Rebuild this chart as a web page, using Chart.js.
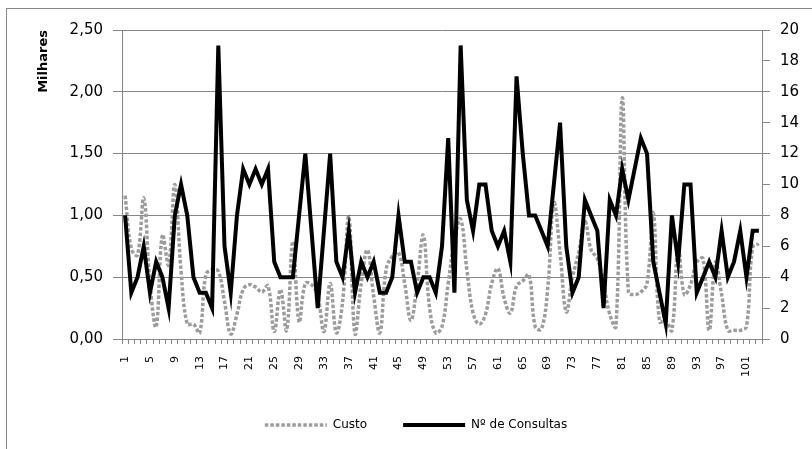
<!DOCTYPE html>
<html lang="pt">
<head>
<meta charset="utf-8">
<title>Custo e Nº de Consultas</title>
<script src="https://cdn.jsdelivr.net/npm/chart.js"></script>
<style>
  html, body { margin:0; padding:0; background:#fff; overflow:hidden; }
  canvas { position:absolute; left:0; top:0; }
  /* moldura do gráfico (estilo Excel) */
  #moldura { position:absolute; left:6px; top:8px; width:900px; height:600px; border:1px solid #868686; pointer-events:none; }
</style>
</head>
<body>
<canvas id="grafico" width="812" height="449"></canvas>
<div id="moldura"></div>
<script>
// DADOS
// custo em euros (o eixo mostra milhares)
var custo = [
  1160, 730, 680,1140, 450, 100, 840, 600,1250, 550,
   120, 120,  50, 520, 560, 550, 300,  40, 200, 400,
   440, 420, 380, 430,  60, 400,  70, 790, 140, 450,
   440, 350,  60, 450,  50, 300, 990,  40, 450, 720,
   350,  50, 560, 670, 700, 450, 150, 450, 840, 250,
    50, 100, 450, 800, 970, 560, 210, 120, 200, 450,
   570, 330, 210, 430, 470, 520, 100,  80, 400,1100,
   700, 220, 500, 700, 950, 720, 650, 450, 200, 100,
  1950, 380, 360, 380, 450,1020, 140, 150,  70, 740,
   360, 440, 620, 650,  70, 620, 360,  70,  70,  70,
   100, 740, 770
];

// número de consultas (eixo da direita)
var consultas = [
   8, 3, 4, 6, 3, 5, 4, 2, 8,10,
   8, 4, 3, 3, 2,19, 6, 3, 8,11,
  10,11,10,11, 5, 4, 4, 4, 8,12,
   7, 2, 7,12, 5, 4, 7, 3, 5, 4,
   5, 3, 3, 4, 8, 5, 5, 3, 4, 4,
   3, 6,13, 3,19, 9, 7,10,10, 7,
   6, 7, 5,17,12, 8, 8, 7, 6,10,
  14, 6, 3, 4, 9, 8, 7, 2, 9, 8,
  11, 9,11,13,12, 5, 3, 1, 8, 5,
  10,10, 3, 4, 5, 4, 7, 4, 5, 7,
   4, 7, 7
];

// categorias 1..103
var categorias = custo.map(function(v, i){ return String(i + 1); });

// limites dos eixos
var maxCusto = 2500, passoCusto = 500;
var maxConsultas = 20, passoConsultas = 2;

// GRÁFICO
Chart.defaults.font.family = "'DejaVu Sans', sans-serif";
Chart.defaults.color = '#000';

var cinza = '#868686';
var ctx = document.getElementById('grafico').getContext('2d');

// legenda: usa o traço da própria linha (e não o do ponto)
function legendaLinhas(chart){
  var itens = Chart.defaults.plugins.legend.labels.generateLabels(chart);
  itens.forEach(function(it){
    var ds = chart.data.datasets[it.datasetIndex];
    it.lineDash = ds.borderDash || [];
    it.lineWidth = ds.borderWidth;
    it.strokeStyle = ds.borderColor;
  });
  return itens.sort(function(a, b){ return a.datasetIndex - b.datasetIndex; });
}

new Chart(ctx, {
  type: 'line',
  data: {
    labels: categorias,
    datasets: [
      {
        label: 'Custo',
        data: custo,
        yAxisID: 'y',
        borderColor: '#9c9c9c',
        backgroundColor: '#9c9c9c',
        borderWidth: 3.5,
        borderDash: [3.5, 2],
        tension: 0.4,
        pointRadius: 0,
        fill: false,
        order: 2
      },
      {
        label: 'Nº de Consultas',
        data: consultas,
        yAxisID: 'y1',
        borderColor: '#000',
        backgroundColor: '#000',
        borderWidth: 4,
        tension: 0,
        pointRadius: 0,
        fill: false,
        order: 1
      }
    ]
  },
  options: {
    responsive: false,
    animation: false,
    devicePixelRatio: 1,
    layout: { padding: { left: 20, right: 0, top: 30, bottom: 8 } },
    plugins: {
      tooltip: { enabled: false },
      legend: {
        position: 'bottom',
        labels: {
          usePointStyle: true,
          pointStyle: 'line',
          pointStyleWidth: 62,
          padding: 36,
          color: '#000',
          font: { size: 12 },
          generateLabels: legendaLinhas
        }
      }
    },
    scales: {
      x: {
        offset: true,
        grid: { drawOnChartArea: false, offset: true, tickLength: 5, color: cinza },
        border: { color: cinza },
        ticks: {
          autoSkip: false,
          maxRotation: 90,
          minRotation: 90,
          padding: 12,
          font: { size: 11 },
          // só mostra um rótulo em cada quatro, mas mantém a marca
          callback: function(v, i){ return (i % 4 === 0) ? categorias[i] : ''; }
        },
        afterFit: function(s){ s.height = 44; }
      },
      y: {
        position: 'left',
        min: 0,
        max: maxCusto,
        grid: { color: cinza, tickLength: 9 },
        border: { color: cinza },
        ticks: {
          stepSize: passoCusto,
          padding: 10,
          font: { size: 15 },
          callback: function(v){ return (v / 1000).toFixed(2).replace('.', ','); }
        },
        title: {
          display: true,
          text: 'Milhares',
          align: 'end',
          padding: { top: 16, bottom: 0 },
          font: { size: 13, weight: 'bold' }
        },
        afterFit: function(s){ s.width = 102; }
      },
      y1: {
        position: 'right',
        min: 0,
        max: maxConsultas,
        grid: { drawOnChartArea: false, color: cinza, tickLength: 8 },
        border: { color: cinza },
        ticks: { stepSize: passoConsultas, padding: 10, font: { size: 15 } },
        afterFit: function(s){ s.width = 50; }
      }
    }
  }
});
</script>
</body>
</html>
